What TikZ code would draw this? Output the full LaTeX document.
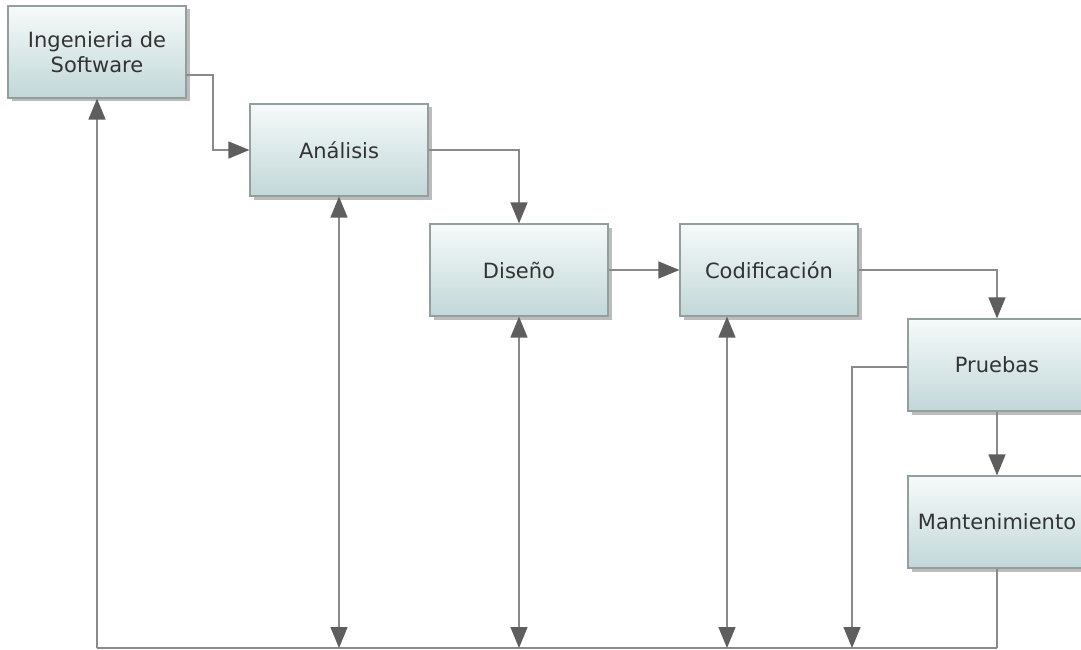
\documentclass[tikz,border=0pt]{standalone}
\usepackage{fontspec}
\setmainfont{DejaVu Sans}
\usetikzlibrary{arrows.meta,shadows,calc}
\definecolor{boxtop}{HTML}{F6FAFA}
\definecolor{boxbot}{HTML}{C2D7D8}
\definecolor{boxedge}{HTML}{939E9E}
\definecolor{linec}{HTML}{8A8A8A}
\definecolor{tipc}{HTML}{5E5E5E}
\definecolor{textc}{HTML}{333333}
\tikzset{
  stage/.style={draw=boxedge, line width=1.2pt, top color=boxtop, bottom color=boxbot,
    minimum width=178pt, minimum height=92pt, inner sep=0pt, align=center,
    text=textc, font=\fontsize{21}{25}\selectfont,
    drop shadow={shadow xshift=3.5pt, shadow yshift=-3.5pt, opacity=0.4, fill=black!65}},
  flow/.style={draw=linec, line width=1.4pt},
  tip/.tip={Triangle[width=17pt, length=21pt, fill=tipc, color=tipc]}
}
\begin{document}
\begin{tikzpicture}[x=1pt, y=-1pt]
  \clip (0,0) rectangle (1081,650);
  \fill[white] (0,0) rectangle (1081,650);

  % stages
  \node[stage] (ing) at (97,52)  {Ingenieria de\\Software};
  \node[stage] (ana) at (339,150) {Análisis};
  \node[stage] (dis) at (519,270) {Diseño};
  \node[stage] (cod) at (769,270) {Codificación};
  \node[stage] (pru) at (997,365) {Pruebas};
  \node[stage] (man) at (997,522) {Mantenimiento};

  % helper points
  \coordinate (ingout) at (186,75);
  \coordinate (bendA) at (213,150);
  \coordinate (feedP) at (852,367);
  \coordinate (bl) at (97,648);
  \coordinate (br) at (997,648);
  \coordinate (codx) at (727,648);

  % forward flow
  \draw[flow, -tip] (ingout) -| (bendA) -- (ana.west);
  \draw[flow, -tip] (ana.east) -| (dis.north);
  \draw[flow, -tip] (dis.east) -- (cod.west);
  \draw[flow, -tip] (cod.east) -| (pru.north);
  \draw[flow, -tip] (pru.south) -- (man.north);

  % return bus
  \draw[flow] (bl) -- (br);
  \draw[flow, -tip] (bl) -- (ing.south);
  \draw[flow, tip-tip] (ana.south) -- (ana.south |- bl);
  \draw[flow, tip-tip] (dis.south) -- (dis.south |- bl);
  \draw[flow, tip-tip] (codx |- cod.south) -- (codx);
  \draw[flow, -tip] (pru.west |- feedP) -- (feedP) -- (feedP |- bl);
  \draw[flow] (man.south) -- (br);
\end{tikzpicture}
\end{document}
